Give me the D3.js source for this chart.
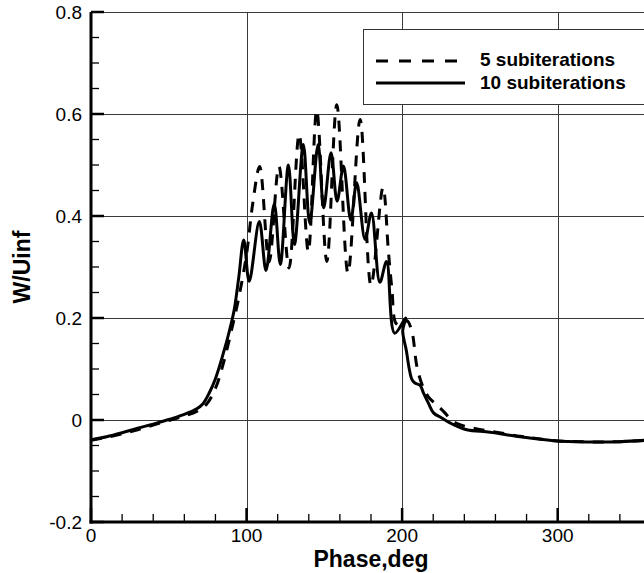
<!DOCTYPE html>
<html>
<head>
<meta charset="utf-8">
<script src="https://cdn.jsdelivr.net/npm/d3@7/dist/d3.min.js"></script>
<style>
  html, body { margin: 0; padding: 0; background: #fff; }
  svg { display: block; }
  text { font-family: "Liberation Sans", Arial, Helvetica, sans-serif; fill: #000; }
</style>
</head>
<body>
<svg id="chart" width="644" height="573"></svg>
<script>
// ---- data ----
const seriesNames = ["5 subiterations", "10 subiterations"];

const phase5 = [0, 10, 20, 30, 40, 50, 60, 68, 74, 80, 85, 90, 95, 100, 104, 108.4,
  114.5, 120.8, 127.3, 133.8, 139.7, 145.1, 151.6, 158, 165.2, 173, 180, 187.7,
  191.2, 193.5, 196, 199.5, 203, 206.2, 209.5, 213, 217, 221, 226.6, 233, 240.5,
  249, 257, 276, 297, 319, 340, 360];
const w5 = [-0.04, -0.034, -0.027, -0.019, -0.01, -0.001, 0.008, 0.017, 0.03, 0.062, 0.11, 0.172, 0.24, 0.325, 0.425, 0.497,
  0.31, 0.497, 0.298, 0.56, 0.33, 0.607, 0.311, 0.618, 0.288, 0.589, 0.264, 0.456,
  0.33, 0.255, 0.19, 0.185, 0.195, 0.175, 0.105, 0.068, 0.045, 0.033, 0.017, -0.003, -0.0125,
  -0.018, -0.022, -0.032, -0.04, -0.043, -0.0425, -0.039];

const phase10 = [0, 10, 20, 30, 40, 50, 60, 68, 72, 76, 80, 85, 89, 92, 95, 98.2,
  101.7, 108.2, 112.5, 117.8, 121.7, 126.9, 130.8, 136.5, 140.6, 146, 149.6, 154.3,
  158.2, 162.3, 167, 170.8, 176.2, 180.3, 185.7, 190, 195.2, 202.3, 200.4, 202.8,
  204.6, 206.4, 208.5, 211.6, 213.7, 216.9, 220.2, 225.5, 233, 241.6, 256.6, 275.9,
  297.3, 318.8, 340.2, 360];
const w10 = [-0.039, -0.033, -0.025, -0.016, -0.008, 0.001, 0.011, 0.022, 0.032, 0.053, 0.081, 0.13, 0.175, 0.215, 0.28, 0.353,
  0.272, 0.389, 0.293, 0.424, 0.305, 0.5, 0.344, 0.54, 0.386, 0.54, 0.416, 0.524,
  0.429, 0.498, 0.392, 0.465, 0.354, 0.406, 0.27, 0.311, 0.17, 0.2, 0.175, 0.135,
  0.1, 0.079, 0.072, 0.068, 0.053, 0.033, 0.014, 0.004, -0.009, -0.019, -0.024, -0.033,
  -0.0406, -0.043, -0.0425, -0.039];

const xMajorTicks = [0, 100, 200, 300];
const yMajorTicks = [-0.2, 0, 0.2, 0.4, 0.6, 0.8];
const yTickLabels = ["-0.2", "0", "0.2", "0.4", "0.6", "0.8"];
const xLabel = "Phase,deg";
const yLabel = "W/Uinf";

// ---- layout ----
const svg = d3.select("#chart");
const pLeft = 91, pRight = 651, pTop = 12, pBottom = 522;
const x = d3.scaleLinear().domain([0, 360]).range([pLeft, pRight]);
const y = d3.scaleLinear().domain([-0.2, 0.8]).range([pBottom, pTop]);

// grid
const grid = svg.append("g").attr("stroke", "#3a3a3a").attr("stroke-width", 1);
xMajorTicks.filter(d => d > 0).forEach(d => {
  grid.append("line").attr("x1", Math.round(x(d)) + 0.5).attr("x2", Math.round(x(d)) + 0.5)
    .attr("y1", pTop).attr("y2", pBottom);
});
yMajorTicks.filter(d => d > -0.2).forEach(d => {
  grid.append("line").attr("y1", Math.round(y(d)) + 0.5).attr("y2", Math.round(y(d)) + 0.5)
    .attr("x1", pLeft).attr("x2", pRight);
});

// clip
svg.append("clipPath").attr("id", "clip").append("rect")
  .attr("x", pLeft).attr("y", pTop).attr("width", pRight - pLeft).attr("height", pBottom - pTop);

const line = d3.line().x(d => x(d[0])).y(d => y(d[1])).curve(d3.curveCatmullRom.alpha(0.5));
const data5 = phase5.map((p, i) => [p, w5[i]]);
const data10 = phase10.map((p, i) => [p, w10[i]]);

const plot = svg.append("g").attr("clip-path", "url(#clip)");
plot.append("path").datum(data5).attr("d", line)
  .attr("fill", "none").attr("stroke", "#000").attr("stroke-width", 3)
  .attr("stroke-dasharray", "11,9");
plot.append("path").datum(data10).attr("d", line)
  .attr("fill", "none").attr("stroke", "#000").attr("stroke-width", 3);

// axes (left and bottom, ticks inward)
const ax = svg.append("g");
const xMinor = d3.range(0, 361, 20).filter(d => d % 100 !== 0);
const yMinor = d3.range(-0.2, 0.8001, 0.05).filter(d => Math.abs(Math.round(d * 5) - d * 5) > 1e-6);
xMinor.forEach(d => {
  ax.append("line").attr("x1", x(d)).attr("x2", x(d)).attr("y1", pBottom).attr("y2", pBottom - 8)
    .attr("stroke", "#000").attr("stroke-width", 1.3);
});
xMajorTicks.forEach(d => {
  ax.append("line").attr("x1", x(d)).attr("x2", x(d)).attr("y1", pBottom).attr("y2", pBottom - 14)
    .attr("stroke", "#000").attr("stroke-width", 2.5);
});
yMinor.forEach(d => {
  ax.append("line").attr("y1", y(d)).attr("y2", y(d)).attr("x1", pLeft).attr("x2", pLeft + 8)
    .attr("stroke", "#000").attr("stroke-width", 1.3);
});
yMajorTicks.forEach(d => {
  ax.append("line").attr("y1", y(d)).attr("y2", y(d)).attr("x1", pLeft).attr("x2", pLeft + 13)
    .attr("stroke", "#000").attr("stroke-width", 2.5);
});
ax.append("line").attr("x1", pLeft).attr("x2", pLeft).attr("y1", pTop).attr("y2", pBottom + 1.5)
  .attr("stroke", "#000").attr("stroke-width", 3);
ax.append("line").attr("x1", pLeft - 1.5).attr("x2", pRight).attr("y1", pBottom).attr("y2", pBottom)
  .attr("stroke", "#000").attr("stroke-width", 3);

// tick labels
yMajorTicks.forEach((d, i) => {
  svg.append("text").attr("x", pLeft - 9).attr("y", y(d)).attr("dy", "0.35em")
    .attr("text-anchor", "end").attr("font-size", 19).text(yTickLabels[i]);
});
xMajorTicks.forEach(d => {
  svg.append("text").attr("x", x(d)).attr("y", 542)
    .attr("text-anchor", "middle").attr("font-size", 19).text(String(d));
});

// axis titles
svg.append("text").attr("x", (pLeft + pRight) / 2).attr("y", 567)
  .attr("text-anchor", "middle").attr("font-size", 23).attr("font-weight", "bold").text(xLabel);
svg.append("text").attr("transform", `translate(30,${(pTop + pBottom) / 2}) rotate(-90)`)
  .attr("text-anchor", "middle").attr("font-size", 23).attr("font-weight", "bold").text(yLabel);

// legend
const lg = svg.append("g");
lg.append("rect").attr("x", 363.5).attr("y", 29.5).attr("width", 300).attr("height", 75)
  .attr("fill", "#fff").attr("stroke", "#333").attr("stroke-width", 1);
lg.append("line").attr("x1", 376).attr("x2", 465).attr("y1", 61).attr("y2", 61)
  .attr("stroke", "#000").attr("stroke-width", 3).attr("stroke-dasharray", "12,11");
lg.append("line").attr("x1", 376).attr("x2", 465).attr("y1", 83).attr("y2", 83)
  .attr("stroke", "#000").attr("stroke-width", 3);
lg.append("text").attr("x", 480).attr("y", 66).attr("font-size", 19).attr("font-weight", "bold").text(seriesNames[0]);
lg.append("text").attr("x", 480).attr("y", 89).attr("font-size", 19).attr("font-weight", "bold").text(seriesNames[1]);
</script>
</body>
</html>
